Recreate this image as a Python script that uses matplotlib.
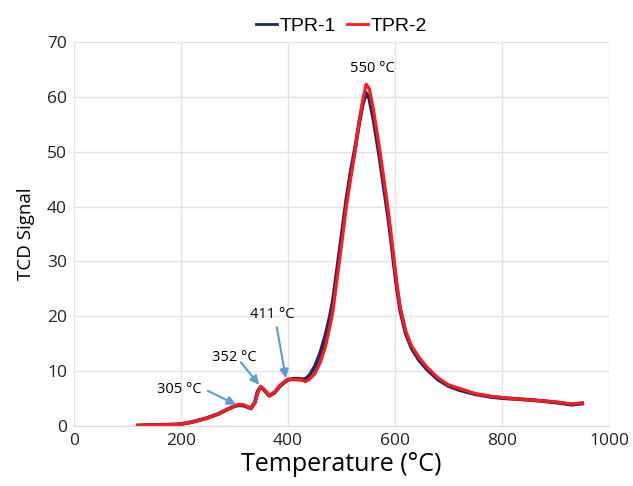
import numpy as np
import matplotlib
matplotlib.use('Agg')
import matplotlib.pyplot as plt

# Temperature (°C) and TCD signal
temp = [120, 160, 197, 220, 247, 270, 284, 295, 303, 309, 318, 331, 338, 343, 349, 355,
        365, 375, 385, 399, 410, 420, 427, 433, 440, 450, 460, 470, 478, 484, 490, 496,
        502, 509, 517, 526, 533, 540, 546, 552, 560, 572, 580, 587, 592, 598, 604, 610,
        620, 631, 645, 660, 680, 700, 719, 750, 780, 800, 830, 860, 900, 930, 950]
tpr1 = [0.1, 0.2, 0.3, 0.7, 1.4, 2.2, 2.9, 3.4, 3.7, 3.8, 3.7, 3.2, 4.3, 6.2, 7.1, 6.6,
        5.5, 6.1, 7.3, 8.4, 8.6, 8.6, 8.5, 8.6, 9.2, 10.8, 13.2, 16.5, 19.8, 22.8, 27.2, 31.6,
        36.0, 41.2, 46.2, 51.0, 55.2, 58.8, 60.7, 59.7, 55.8, 48.5, 43.0, 38.3, 34.5, 29.5, 24.8, 21.0,
        16.9, 14.2, 12.0, 10.3, 8.5, 7.3, 6.6, 5.8, 5.3, 5.1, 4.9, 4.7, 4.3, 3.9, 4.1]
tpr2 = [0.1, 0.2, 0.3, 0.7, 1.4, 2.2, 2.9, 3.4, 3.8, 3.9, 3.8, 3.2, 4.2, 6.0, 7.2, 6.7,
        5.5, 6.2, 7.4, 8.5, 8.5, 8.4, 8.3, 8.1, 8.5, 9.5, 11.5, 14.5, 18.0, 21.0, 25.5, 30.0,
        34.5, 40.0, 45.0, 50.5, 55.5, 59.5, 62.3, 61.5, 57.5, 50.0, 44.5, 39.5, 35.5, 30.5, 25.5, 21.5,
        17.3, 14.6, 12.5, 10.7, 8.8, 7.5, 6.9, 5.9, 5.4, 5.2, 4.9, 4.7, 4.4, 4.0, 4.2]

peaks = ['305 °C', '352 °C', '411 °C']
peak_label_xy = [(197, 6.6), (300, 12.4), (371, 20.4)]
arrow_start = [(250, 6.4), (312, 11.6), (379, 18.0)]
arrow_end = [(303, 3.9), (346, 7.5), (396, 8.7)]

fig = plt.figure(figsize=(6.33, 4.86), dpi=100)
ax = fig.add_axes([0.117, 0.1235, 0.845, 0.79])

ax.plot(temp, tpr1, color='#1c2a6b', lw=2.8, label='TPR-1')
ax.plot(temp, tpr2, color='#ff1a1a', lw=2.3, label='TPR-2')

for txt, xy in zip(peaks, peak_label_xy):
    ax.text(xy[0], xy[1], txt, ha='center', va='center', fontsize=10.5, fontfamily='Open Sans')
for s, e in zip(arrow_start, arrow_end):
    ax.annotate('', xy=e, xytext=s,
                arrowprops=dict(arrowstyle='-|>', color='#5b9bd5', lw=1.5,
                                shrinkA=0, shrinkB=0, mutation_scale=13))
ax.text(557, 65.2, '550 °C', ha='center', va='center', fontsize=10.5, fontfamily='Open Sans')

ax.set_xlim(0, 1000)
ax.set_ylim(0, 70)
ax.set_xticks(np.arange(0, 1001, 200))
ax.set_yticks(np.arange(0, 71, 10))
ax.grid(color='#e3e3e3', lw=1)
ax.set_axisbelow(True)
for s in ['top', 'right', 'left']:
    ax.spines[s].set_visible(False)
ax.spines['bottom'].set_color('#d9d9d9')
ax.tick_params(length=0, labelsize=12.5, pad=5, labelcolor='#222222')
for lab in ax.get_xticklabels() + ax.get_yticklabels():
    lab.set_fontfamily('Open Sans')

ax.set_xlabel('Temperature (°C)', fontsize=18, fontfamily='Open Sans', labelpad=2)
ax.set_ylabel('TCD Signal', fontsize=13.5, fontfamily='Open Sans', labelpad=9)

leg = ax.legend(loc='lower center', bbox_to_anchor=(0.5, 0.994), ncol=2, frameon=False,
                prop={'family': 'Liberation Sans', 'size': 14}, handlelength=1.08,
                handletextpad=0.1, columnspacing=0.6, borderaxespad=0.1)
for h in leg.get_lines():
    h.set_linewidth(2.0)

fig.savefig('out.png', dpi=100)
